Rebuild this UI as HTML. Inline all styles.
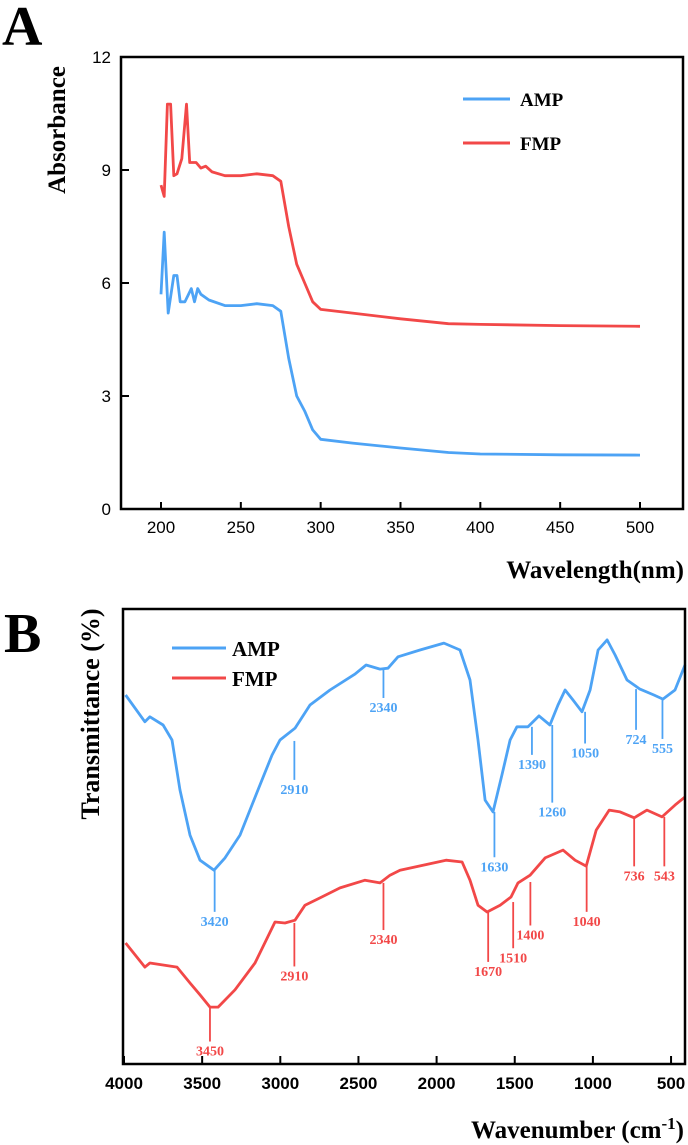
<!DOCTYPE html>
<html><head><meta charset="utf-8"><style>
body{margin:0;background:#fff;}
svg{display:block;}
.tk{font-family:"Liberation Sans",Arial,sans-serif;font-size:17px;fill:#000;}
.ttl{font-family:"Liberation Serif",serif;font-weight:bold;fill:#000;}
.ann{font-family:"Liberation Serif",serif;font-weight:bold;font-size:14px;}
</style></head><body>
<svg id="fig" width="688" height="1145" viewBox="0 0 688 1145" xmlns="http://www.w3.org/2000/svg">
<text x="2" y="45" class="ttl" font-size="56">A</text>
<text x="4" y="652" class="ttl" font-size="56">B</text>
<text transform="translate(65,130) rotate(-90)" text-anchor="middle" class="ttl" font-size="25">Absorbance</text>
<text x="684" y="578" text-anchor="end" class="ttl" font-size="25">Wavelength(nm)</text>
<text transform="translate(99,714) rotate(-90)" text-anchor="middle" class="ttl" font-size="26">Transmittance (%)</text>
<text x="684" y="1138" text-anchor="end" class="ttl" font-size="25">Wavenumber (cm<tspan dy="-9" font-size="17">-1</tspan><tspan dy="9">)</tspan></text>
<g id="ga"></g>
<g id="gb"></g>
</svg>
<script>
// ---- Panel A data ----
const aWl = [200,202,204,206,208,210,213,216,218,222,225,228,232,240,250,260,270,275,280,285,290,295,300,320,350,380,400,450,500];
const aFMP = [8.6,8.3,10.75,10.75,8.85,8.9,9.3,10.75,9.2,9.2,9.05,9.1,8.95,8.85,8.85,8.9,8.85,8.7,7.5,6.5,6.0,5.5,5.3,5.2,5.05,4.92,4.9,4.87,4.85];
const aAmpWl = [200,202,204.5,208,210,212,215,219,221,223,225,230,240,250,260,270,275,280,285,290,295,300,320,350,380,400,450,500];
const aAMP = [5.7,7.35,5.2,6.2,6.2,5.5,5.5,5.85,5.5,5.85,5.7,5.55,5.4,5.4,5.45,5.4,5.25,4.0,3.0,2.6,2.1,1.85,1.75,1.62,1.5,1.46,1.44,1.43];
const aXTicks = [200,250,300,350,400,450,500];
const aYTicks = [0,3,6,9,12];
// ---- Panel B data ----
const bAmpWn = [3990,3866,3834,3750,3693,3642,3578,3514,3424,3354,3258,3143,3053,3002,2906,2810,2682,2522,2451,2362,2311,2247,2106,1953,1850,1786,1735,1690,1639,1582,1530,1486,1415,1345,1275,1223,1178,1127,1070,1018,967,909,858,782,699,610,552,475,411];
const bAMP = [81.1,75.2,76.3,74.5,71.2,60.2,50.3,44.8,42.6,45.3,50.3,60.2,67.9,71.2,73.8,78.9,82.2,85.7,87.7,86.8,87.0,89.5,91.0,92.5,91.0,84.4,71.2,58.0,55.4,63.5,71.2,74.1,74.1,76.5,74.5,78.9,82.2,80.0,77.4,82.2,91.0,93.2,89.9,84.4,82.4,81.1,80.2,82.2,87.7];
const bFmpWn = [3990,3866,3834,3661,3578,3514,3450,3398,3290,3162,3034,2970,2906,2842,2746,2618,2458,2362,2298,2234,1940,1837,1786,1735,1677,1594,1524,1479,1402,1306,1191,1114,1043,979,896,826,736,654,558,475,411];
const bFMP = [26.6,21.3,22.2,21.3,17.8,15.2,12.5,12.5,16.3,22.2,31.2,31.0,31.6,34.9,36.5,38.7,40.4,39.8,41.5,42.6,44.8,44.4,40.4,34.9,33.4,34.9,36.7,39.8,41.5,45.3,47.0,44.8,43.5,51.4,55.8,55.4,54.1,55.8,54.3,56.9,58.7];
const bXTicks = [4000,3500,3000,2500,2000,1500,1000,500];
const ampPeaks = [3420,2910,2340,1630,1390,1260,1050,724,555];
const ampPeakT = [42.6,71.0,86.8,55.4,74.1,74.5,77.4,82.4,80.2];
const ampLabT = [33,62,80,45,67.5,57,70,73,71];
const fmpPeaks = [3450,2910,2340,1670,1510,1400,1040,736,543];
const fmpPeakT = [12.5,31.0,39.8,33.4,35.6,40.0,43.5,54.1,54.3];
const fmpLabT = [4.5,21,29,22,25,30,33,43,43];

const NS="http://www.w3.org/2000/svg";
function mk(parent,tag,attrs){const e=document.createElementNS(NS,tag);for(const k in attrs)e.setAttribute(k,attrs[k]);parent.appendChild(e);return e;}
const BLUE="#4da3f5", RED="#f24848";

// Panel A
const ga=document.getElementById('ga');
const AL=121,AR=683,AT=57,AB=509;
const ax=v=>161+(v-200)*(479/300);
const ay=v=>AB-v*(AB-AT)/12;
function line(g,xs,ys,fx,fy,col,name){
  const p=mk(g,'path',{d:xs.map((x,i)=>(i?'L':'M')+fx(x).toFixed(1)+','+fy(ys[i]).toFixed(1)).join(''),fill:'none',stroke:col,'stroke-width':2.8,'stroke-linejoin':'round'});
  
  
}
line(ga,aWl,aFMP,ax,ay,RED,'fmp-absorbance-line');
line(ga,aAmpWl,aAMP,ax,ay,BLUE,'amp-absorbance-line');
const fa=mk(ga,'rect',{x:AL,y:AT,width:AR-AL,height:AB-AT,fill:'none',stroke:'#000','stroke-width':2.5});


aXTicks.forEach(v=>{
  mk(ga,'line',{x1:ax(v),x2:ax(v),y1:AB,y2:AB-7,stroke:'#000','stroke-width':2});
  const t=mk(ga,'text',{x:ax(v),y:AB+24,'text-anchor':'middle',class:'tk'});t.textContent=v;
  
  
});
aYTicks.forEach(v=>{
  mk(ga,'line',{x1:AL,x2:AL+8,y1:ay(v),y2:ay(v),stroke:'#000','stroke-width':2});
  const t=mk(ga,'text',{x:AL-10,y:ay(v)+6,'text-anchor':'end',class:'tk'});t.textContent=v;
  
  
});
[[BLUE,'AMP',99],[RED,'FMP',143]].forEach(([c,n,y])=>{
  const g=mk(ga,'g',{});
  
  
  mk(g,'line',{x1:463,x2:510,y1:y,y2:y,stroke:c,'stroke-width':3});
  const t=mk(g,'text',{x:520,y:y+7,class:'ttl','font-size':19});t.textContent=n;
});

// Panel B
const gb=document.getElementById('gb');
const BL=123,BR=685,BT=609,BB=1064;
const bx=w=>124+(4000-w)*0.1563;
const by=v=>BB-v*4.55;
line(gb,bAmpWn,bAMP,bx,by,BLUE,'amp-ftir-line');
line(gb,bFmpWn,bFMP,bx,by,RED,'fmp-ftir-line');
function peaks(wn,pt,lt,col,nm){
  wn.forEach((w,i)=>{
    const g=mk(gb,'g',{});
    
    
    mk(g,'line',{x1:bx(w),x2:bx(w),y1:by(pt[i]),y2:by(lt[i])-2,stroke:col,'stroke-width':1.8});
    const t=mk(g,'text',{x:bx(w),y:by(lt[i])+12,'text-anchor':'middle',class:'ann',fill:col});t.textContent=w;
  });
}
peaks(ampPeaks,ampPeakT,ampLabT,BLUE,'amp');
peaks(fmpPeaks,fmpPeakT,fmpLabT,RED,'fmp');
const fb=mk(gb,'rect',{x:BL,y:BT,width:BR-BL,height:BB-BT,fill:'none',stroke:'#000','stroke-width':2.5});


bXTicks.forEach(v=>{
  mk(gb,'line',{x1:bx(v),x2:bx(v),y1:BB,y2:BB-8,stroke:'#000','stroke-width':2});
  const t=mk(gb,'text',{x:bx(v),y:BB+25,'text-anchor':'middle',class:'tk','font-weight':'bold'});t.textContent=v;
  
  
});
[[BLUE,'AMP',648],[RED,'FMP',678]].forEach(([c,n,y])=>{
  const g=mk(gb,'g',{});
  
  
  mk(g,'line',{x1:172,x2:226,y1:y,y2:y,stroke:c,'stroke-width':3});
  const t=mk(g,'text',{x:232,y:y+8,class:'ttl','font-size':21});t.textContent=n;
});
</script>
</body></html>
